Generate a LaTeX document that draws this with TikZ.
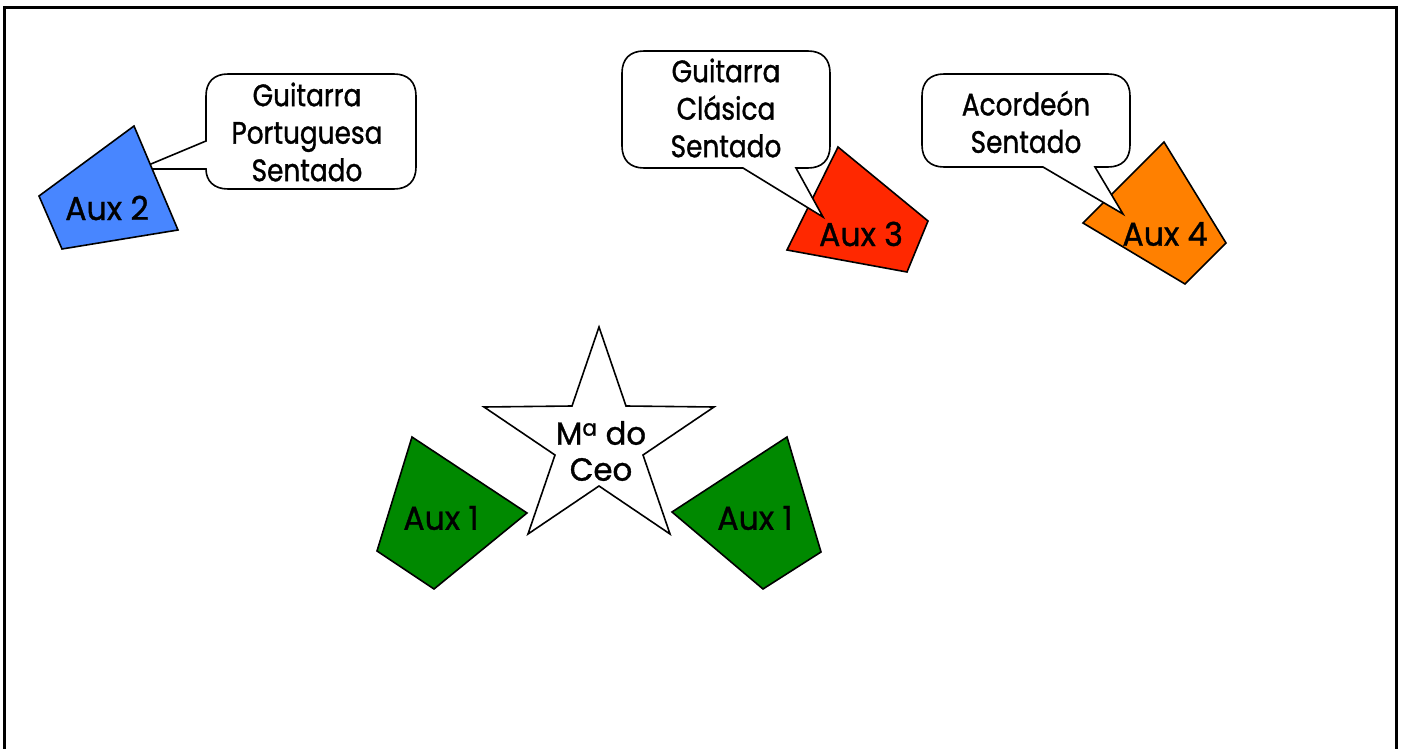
\documentclass[tikz,border=0pt]{standalone}
\usepackage{fontspec}
\setmainfont{Poppins}[FakeStretch=0.85,FakeBold=1.1]
\newfontfamily\auxfont{Poppins}[FakeStretch=0.96,FakeBold=1.1]
\begin{document}
\begin{tikzpicture}[x=1pt,y=-1pt,
  shp/.style={draw=black,line width=1.6pt,line join=miter},
  call/.style={draw=black,fill=white,line width=1.6pt},
  lbl/.style={font=\fontsize{31}{37.5}\selectfont,align=center,inner sep=0pt},
  auxlbl/.style={font=\auxfont\fontsize{33}{38}\selectfont,align=center,inner sep=0pt},
  starlbl/.style={font=\auxfont\fontsize{32}{36}\selectfont,align=center,inner sep=0pt},
  frame/.style={draw=black,line width=3pt}]
\definecolor{auxblue}{RGB}{72,134,255}
\definecolor{auxred}{RGB}{255,40,0}
\definecolor{auxorange}{RGB}{255,128,0}
\definecolor{auxgreen}{RGB}{0,137,0}
\useasboundingbox (0,0) rectangle (1408,749);
\fill[white] (0,0) rectangle (1408,749);
\draw[frame] (4.5,752) -- (4.5,7.5) -- (1396,7.5) -- (1396,752);

% callout 1 (behind Aux 2)
\draw[call] (206,141) -- (139,169) -- (206,169) .. controls (206,181) and (214,189) .. (228,189) -- (394,189) .. controls (408,189) and (416,181) .. (416,167) -- (416,96) .. controls (416,82) and (408,74) .. (394,74) -- (228,74) .. controls (214,74) and (206,82) .. (206,96) -- cycle;
\node[lbl] (t1) at (307,132) {Guitarra\\Portuguesa\\Sentado};

% Aux 2
\draw[shp,fill=auxblue] (134,126) -- (178,230) -- (62,249) -- (39,196) -- cycle;
\node[auxlbl] (a2) at (107,208) {Aux 2};

% Aux 3 then callout 2
\draw[shp,fill=auxred] (838,147) -- (928,221) -- (907,272) -- (787,250) -- cycle;
\draw[call] (743,168) -- (823,217) -- (796,168) -- (808,168) .. controls (822,168) and (830,160) .. (830,146) -- (830,73) .. controls (830,59) and (822,51) .. (808,51) -- (644,51) .. controls (630,51) and (622,59) .. (622,73) -- (622,146) .. controls (622,160) and (630,168) .. (644,168) -- cycle;
\node[lbl] (t2) at (726,108) {Guitarra\\Clásica\\Sentado};
\node[auxlbl] (a3) at (861,234) {Aux 3};

% Aux 4 then callout 3
\draw[shp,fill=auxorange] (1164,142) -- (1226,243) -- (1185,284) -- (1083,223) -- cycle;
\draw[call] (1043,167) -- (1123,214) -- (1095,167) -- (1108,167) .. controls (1122,167) and (1130,159) .. (1130,145) -- (1130,96) .. controls (1130,82) and (1122,74) .. (1108,74) -- (944,74) .. controls (930,74) and (922,82) .. (922,96) -- (922,145) .. controls (922,159) and (930,167) .. (944,167) -- cycle;
\node[lbl] (t3) at (1026,122) {Acordeón\\Sentado};
\node[auxlbl] (a4) at (1165,234) {Aux 4};

% star
\draw[shp,fill=white] (599,327) -- (626,406) -- (714,407) -- (643,455) -- (670,534) -- (599,486) -- (528,534) -- (555,455) -- (484,407) -- (572,406) -- cycle;
\node[starlbl] (ceo) at (601,451) {M\textsuperscript{a} do\\Ceo};

% green
\draw[shp,fill=auxgreen] (412,437) -- (527,513) -- (434,589) -- (377,551) -- cycle;
\node[auxlbl] (a1l) at (441,518) {Aux 1};
\draw[shp,fill=auxgreen] (787,437) -- (821,552) -- (763,589) -- (672,512) -- cycle;
\node[auxlbl] (a1r) at (755,518) {Aux 1};
\end{tikzpicture}
\end{document}
